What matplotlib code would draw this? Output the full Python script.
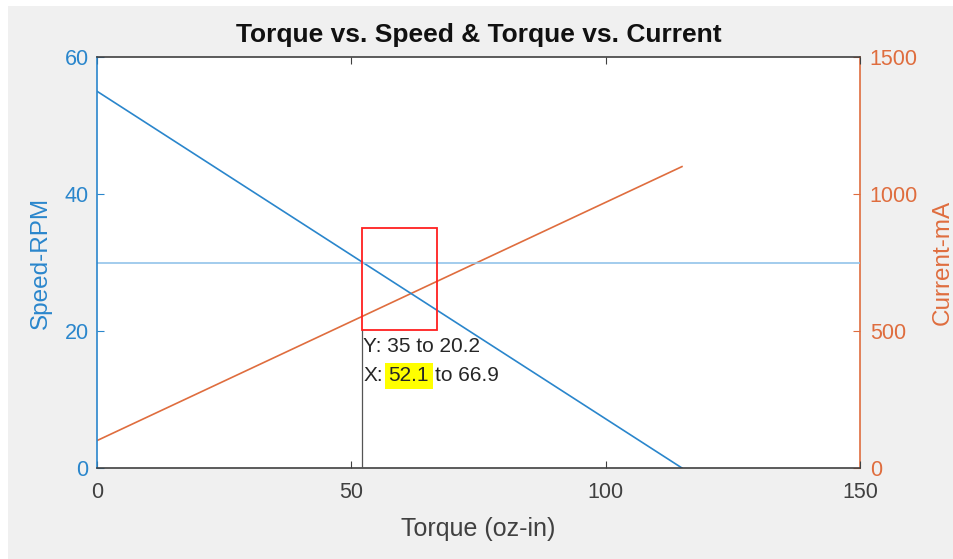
import matplotlib
matplotlib.use('Agg')
import matplotlib.pyplot as plt
from matplotlib.patches import Rectangle

# ---- data ----
torque = [0, 115]
speed_rpm = [55, 0]
current_ma = [100, 1100]
speed_ref = 30
sel_x = [52.1, 66.9]
sel_y = [35, 20.2]
x_ticks = [0, 50, 100, 150]
speed_ticks = [0, 20, 40, 60]
current_ticks = [0, 500, 1000, 1500]

plt.rcParams['font.family'] = ['Liberation Sans', 'DejaVu Sans']

BLUE = '#2a86cc'
ORANGE = '#df6d3e'
LIGHTBLUE = '#92c4ea'
DARK = '#262626'

W, H = 954, 559
fig = plt.figure(figsize=(W / 100, H / 100), dpi=100, facecolor='white')
fig.add_artist(Rectangle((8 / W, 0), 1, 1 - 6 / H, transform=fig.transFigure,
                         facecolor='#f0f0f0', edgecolor='none', zorder=-10))

ax = fig.add_axes([97 / W, 1 - 468 / H, 763 / W, 411 / H])
ax2 = ax.twinx()
ax.set_zorder(2)
ax2.set_zorder(1)
ax.patch.set_visible(False)
ax2.patch.set_visible(True)
ax2.patch.set_facecolor('white')

ax.plot(torque, speed_rpm, color=BLUE, lw=1.2)
ax.axhline(speed_ref, color=LIGHTBLUE, lw=1.2)
ax2.plot(torque, current_ma, color=ORANGE, lw=1.2)

ax.add_patch(Rectangle((sel_x[0], sel_y[1]), sel_x[1] - sel_x[0], sel_y[0] - sel_y[1],
                       fill=False, edgecolor='#ff2020', lw=1.3, zorder=5))
ax.plot([sel_x[0], sel_x[0]], [0, sel_y[1]], color='#555555', lw=0.9, zorder=4)

ax.set_xlim(0, 150)
ax.set_ylim(0, 60)
ax2.set_ylim(0, 1500)
ax.set_xticks(x_ticks)
ax.set_yticks(speed_ticks)
ax2.set_yticks(current_ticks)

for s in ['top', 'bottom']:
    ax.spines[s].set_color('#404040')
    ax.spines[s].set_linewidth(1.2)
ax.spines['left'].set_color(BLUE)
ax.spines['left'].set_linewidth(1.2)
ax.spines['right'].set_visible(False)
for s in ['left', 'top', 'bottom']:
    ax2.spines[s].set_visible(False)
ax2.spines['right'].set_color(ORANGE)
ax2.spines['right'].set_linewidth(1.2)

ax.tick_params(axis='x', direction='in', length=5, top=True, color='#404040',
               labelcolor='#404040', labelsize=15.5, pad=10)
ax.tick_params(axis='y', direction='in', length=5, colors=BLUE, labelsize=15.5, pad=6)
ax2.tick_params(axis='y', direction='in', length=5, colors=ORANGE, labelsize=15.5, pad=7)

ax.set_xlabel('Torque (oz-in)', fontsize=18, color='#404040', labelpad=10)
ax.set_ylabel('Speed-RPM', fontsize=17.5, color=BLUE, labelpad=9)
ax2.set_ylabel('Current-mA', fontsize=17.5, color=ORANGE, labelpad=10)
ax.set_title('Torque vs. Speed & Torque vs. Current', fontsize=19, fontweight='bold',
             color='#111111', pad=11)

# data tip
tip_kw = dict(fontsize=15, color=DARK, ha='left')
ax.annotate(f"Y: {sel_y[0]:g} to {sel_y[1]:g}", xy=(sel_x[0], sel_y[1]), xytext=(1, -5),
            textcoords='offset points', va='top', zorder=6, **tip_kw)
t2 = ax.annotate("X:", xy=(sel_x[0], sel_y[1]), xytext=(1, -26.5),
                 textcoords='offset points', va='top', zorder=6, **tip_kw)
t3 = ax.annotate(f"{sel_x[0]:g}", xy=(1, 0), xycoords=t2, xytext=(4, 0),
                 textcoords='offset points', va='bottom', zorder=6,
                 bbox=dict(boxstyle='square,pad=0.18', facecolor='#ffff00', edgecolor='none'),
                 **tip_kw)
ax.annotate(f"to {sel_x[1]:g}", xy=(1, 0), xycoords=t3, xytext=(4.5, 0),
            textcoords='offset points', va='bottom', zorder=6, **tip_kw)

fig.savefig('out.png', dpi=100, facecolor=fig.get_facecolor())
